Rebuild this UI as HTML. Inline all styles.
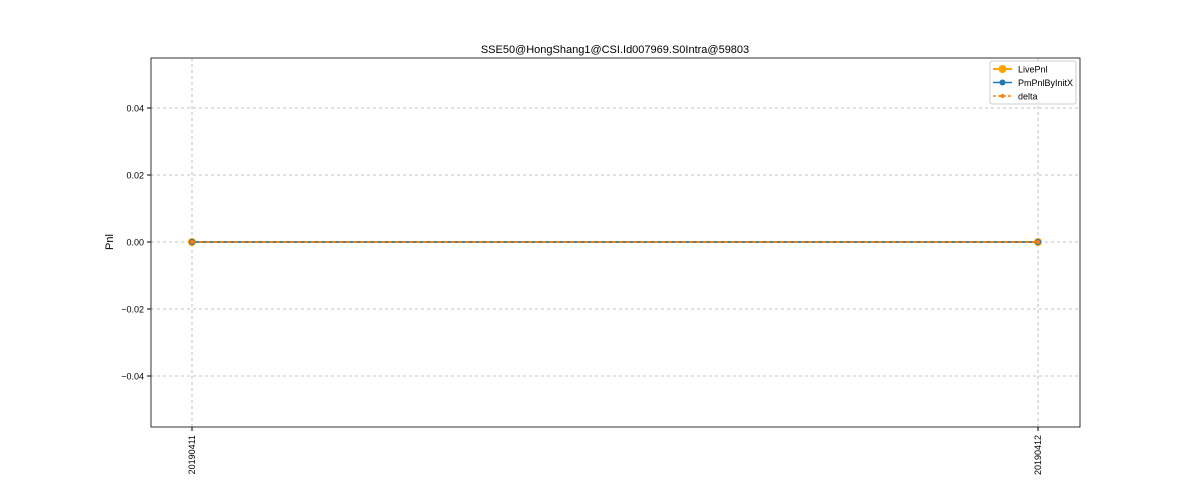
<!DOCTYPE html>
<html><head><meta charset="utf-8"><style>
body{margin:0;background:#fff;font-family:"Liberation Sans","DejaVu Sans",sans-serif}
text{font-family:"Liberation Sans","DejaVu Sans",sans-serif}
</style></head><body>
<svg id="c" width="1200" height="480" xmlns="http://www.w3.org/2000/svg">
<text x="615" y="53" font-size="11" text-anchor="middle">SSE50@HongShang1@CSI.Id007969.S0Intra@59803</text>
<text x="113" y="242" font-size="11" text-anchor="middle" transform="rotate(-90 113 242)">Pnl</text>
</svg>
<script>
const categories=["20190411","20190412"];
const livePnl=[0,0];
const pmPnl=[0,0];
const delta=[0,0];
const yTicks=[-0.04,-0.02,0,0.02,0.04];
const yTickLabels=["−0.04","−0.02","0.00","0.02","0.04"];
const svg=document.getElementById('c');
const NS='http://www.w3.org/2000/svg';
const L=151,R=1080,T=58,B=427;
const x=i=>192+i*(1038-192)/(categories.length-1);
const y=v=>242-v*(134/0.04);
function el(t,a,p){const e=document.createElementNS(NS,t);for(const k in a)e.setAttribute(k,a[k]);(p||svg).appendChild(e);return e;}
yTicks.forEach((v,i)=>{
 const g=el('line',{x1:L,x2:R,y1:y(v),y2:y(v),stroke:'#b0b0b0','stroke-dasharray':'3,3','stroke-width':0.8});
 
 
 el('line',{x1:L-4,x2:L,y1:y(v),y2:y(v),stroke:'#000'});
 const t=el('text',{x:L-7,y:y(v)+3.5,'font-size':9,'text-anchor':'end'});t.textContent=yTickLabels[i];
 
 
});
categories.forEach((c,i)=>{
 const g=el('line',{x1:x(i),x2:x(i),y1:T,y2:B,stroke:'#b0b0b0','stroke-dasharray':'3,3','stroke-width':0.8});
 
 
 el('line',{x1:x(i),x2:x(i),y1:B,y2:B+4,stroke:'#000'});
 const t=el('text',{x:x(i)+3,y:B+8,'font-size':9,'text-anchor':'end',transform:`rotate(-90 ${x(i)+3} ${B+8})`});t.textContent=c;
 
 
});
const f=el('rect',{x:L,y:T,width:R-L,height:B-T,fill:'none',stroke:'#000','stroke-width':0.8});


function series(vals,color,w,dash,r,name){
 const p=el('polyline',{points:vals.map((v,i)=>x(i)+','+y(v)).join(' '),fill:'none',stroke:color,'stroke-width':w,'stroke-dasharray':dash||''});
 
 
 vals.forEach((v,i)=>{const c=el('circle',{cx:x(i),cy:y(v),r:r,fill:color});
  
  });
}
series(livePnl,'#ffa500',2,'',4,'livepnl');
series(pmPnl,'#1f77b4',1.5,'',3,'pmpnlbyinitx');
series(delta,'#ff7f0e',1.5,'4,3',2,'delta');
const lg=el('g',{});


el('rect',{x:990,y:61,width:86,height:43,fill:'#fff',stroke:'#ccc',rx:2},lg);
[['LivePnl','#ffa500',2,'',4],['PmPnlByInitX','#1f77b4',1.5,'',3],['delta','#ff7f0e',1.5,'3,2',2]].forEach((e,i)=>{
 const yy=69+i*13.5;
 const g=el('g',{},lg);
 
 
 el('line',{x1:993,x2:1012,y1:yy,y2:yy,stroke:e[1],'stroke-width':e[2],'stroke-dasharray':e[3]},g);
 el('circle',{cx:1002.5,cy:yy,r:e[4],fill:e[1]},g);
 const t=el('text',{x:1018,y:yy+3.5,'font-size':9},g);t.textContent=e[0];
});
</script>
</body></html>
